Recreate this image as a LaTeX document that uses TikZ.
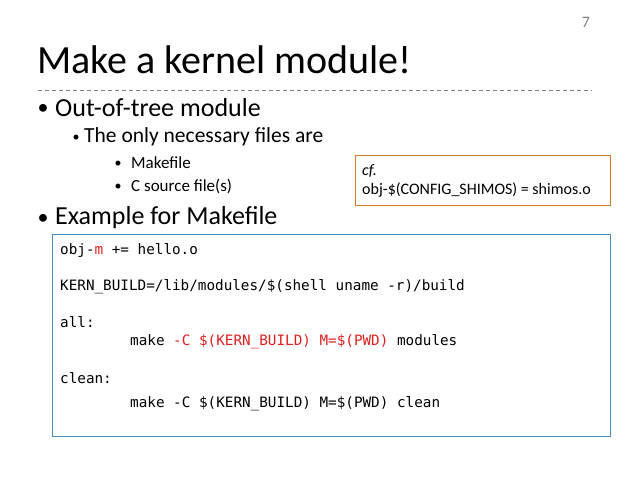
\documentclass[tikz,border=0pt]{standalone}
\usepackage{fontspec}
\setmainfont{Carlito}
\setmonofont{DejaVu Sans Mono}
\usetikzlibrary{positioning}
\definecolor{codered}{RGB}{220,30,30}
\definecolor{boxblue}{RGB}{70,140,190}
\definecolor{boxorange}{RGB}{210,120,40}
\tikzset{
  bullet/.style={anchor=west, inner sep=0pt, font=\fontsize{26}{30}\selectfont},
  subbullet/.style={anchor=west, inner sep=0pt, font=\fontsize{21.5}{24}\selectfont},
  subsubbullet/.style={anchor=west, inner sep=0pt, font=\fontsize{17}{20}\selectfont},
  dot/.style={anchor=center, inner sep=0pt, font=\fontsize{14}{16}\selectfont},
  bigdot/.style={anchor=center, inner sep=0pt, font=\fontsize{22}{24}\selectfont},
  code/.style={anchor=west, inner sep=0pt, font=\ttfamily\fontsize{14.3}{17}\selectfont},
}
\newcommand{\rd}[1]{\textcolor{codered}{#1}}
\begin{document}
\begin{tikzpicture}[x=1pt,y=-1pt]
\useasboundingbox (0,0) rectangle (638,479);
%Header
\node[anchor=center, text=gray, font=\fontsize{16}{18}\selectfont] (page) at (586,22) {7};
\node[anchor=base west, inner sep=0pt, font=\fontsize{40}{46}\selectfont] (title) at (37,73) {Make a kernel module!};
\draw[gray, dashed, dash pattern=on 4pt off 3pt] (38,90) -- (592,90);

%Bullets
\node[bigdot] (d1) at (43,109) {•};
\node[bullet] (b1) at (55,108) {Out-of-tree module};
\node[dot] (d2) at (76,138) {•};
\node[subbullet] (b2) at (84,137) {The only necessary files are};
\node[dot] (d3) at (118,164) {•};
\node[subsubbullet] (b3) at (131,163) {Makefile};
\node[dot] (d4) at (118,187) {•};
\node[subsubbullet] (b4) at (131,186) {C source file(s)};
\node[bigdot] (d5) at (43,219) {•};
\node[bullet] (b5) at (55,218) {Example for Makefile};

%cf box
\draw[boxorange, line width=0.8pt] (355,155) rectangle (610,205);
\node[anchor=west, inner sep=0pt, font=\itshape\fontsize{16}{18}\selectfont] (cf) at (362,171) {cf.};
\node[anchor=west, inner sep=0pt, font=\fontsize{16}{18}\selectfont] (cfline) at (362,190) {obj-\$(CONFIG\_SHIMOS) = shimos.o};

%Code box
\draw[boxblue, line width=0.8pt] (52,234) rectangle (610,436);
\node[code] (l1) at (60,251) {obj-\rd{m} += hello.o};
\node[code] (l2) at (60,287) {KERN\_BUILD=/lib/modules/\$(shell uname -r)/build};
\node[code] (l3) at (60,322) {all:};
\node[code] (l4) at (130,342) {make \rd{-C \$(KERN\_BUILD) M=\$(PWD)} modules};
\node[code] (l5) at (60,378) {clean:};
\node[code] (l6) at (130,404) {make -C \$(KERN\_BUILD) M=\$(PWD) clean};
\end{tikzpicture}
\end{document}
